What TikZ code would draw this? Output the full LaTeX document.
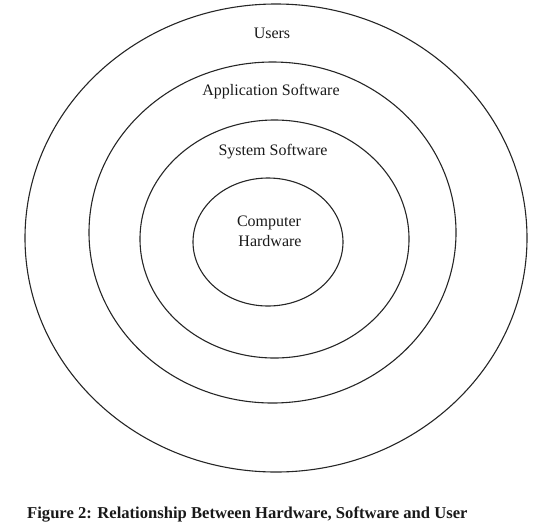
\documentclass[tikz,border=0pt]{standalone}
\usepackage{fontspec}
\setmainfont{Liberation Serif}
\begin{document}
\begin{tikzpicture}[x=1pt,y=-1pt,
  ring/.style={draw=black!85,line width=1.1pt},
  lbl/.style={font=\fontsize{16}{19}\selectfont,anchor=base,inner sep=0pt,text=black!90},
  captext/.style={font=\fontsize{16.6}{19}\selectfont\bfseries,anchor=base west,inner sep=0pt,text=black!90}]
\useasboundingbox (0,0) rectangle (540,528);
\draw[ring] (276,238) ellipse [x radius=251, y radius=234];
\draw[ring] (272.5,232.5) ellipse [x radius=183.5, y radius=170.5];
\draw[ring] (274.5,239) ellipse [x radius=134.5, y radius=119];
\draw[ring] (268,242) ellipse [x radius=75, y radius=64];
\node[lbl] (users) at (272,38) {Users};
\node[lbl] (app) at (271,95) {Application\ Software};
\node[lbl] (sys) at (273,155) {System\ Software};
\node[lbl] (comp) at (269,226.7) {Computer};
\node[lbl] (hw) at (270,246.7) {Hardware};
\node[captext] (caption) at (27,518) {Figure 2: Relationship Between Hardware, Software and User};
\end{tikzpicture}
\end{document}
